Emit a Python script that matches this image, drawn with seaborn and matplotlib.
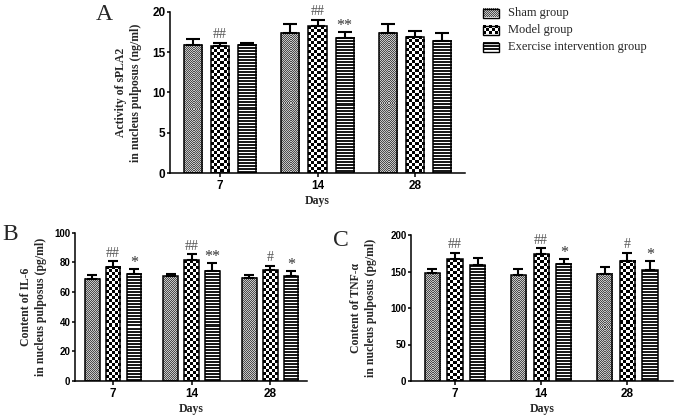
import numpy as np
import pandas as pd
import matplotlib
matplotlib.use("Agg")
import matplotlib.pyplot as plt
from matplotlib.patches import Rectangle
from matplotlib.container import BarContainer
import seaborn as sns

# ---------------- data ----------------
days = ["7", "14", "28"]
groups = ["Sham group", "Model group", "Exercise intervention group"]

a_sham = [15.95, 17.4, 17.4]
a_model = [15.75, 18.25, 16.9]
a_exer = [15.95, 16.8, 16.4]
a_sham_sd = [0.7, 1.15, 1.1]
a_model_sd = [0.45, 0.8, 0.8]
a_exer_sd = [0.2, 0.7, 1.0]
a_model_sig = ["##", "##", ""]
a_exer_sig = ["", "**", ""]

b_sham = [69.0, 70.6, 69.7]
b_model = [76.9, 81.3, 74.8]
b_exer = [72.4, 74.2, 70.6]
b_sham_sd = [2.5, 1.5, 2.0]
b_model_sd = [4.0, 4.3, 3.0]
b_exer_sd = [3.1, 5.4, 3.8]
b_model_sig = ["##", "##", "#"]
b_exer_sig = ["*", "**", "*"]

c_sham = [147.5, 145.2, 146.6]
c_model = [167.0, 173.5, 164.4]
c_exer = [158.4, 160.3, 152.0]
c_sham_sd = [5.5, 8.7, 9.1]
c_model_sd = [9.0, 8.5, 11.4]
c_exer_sd = [9.6, 7.3, 12.8]
c_model_sig = ["##", "##", "#"]
c_exer_sig = ["", "*", "*"]

a_ticks = [0, 5, 10, 15, 20]
b_ticks = [0, 20, 40, 60, 80, 100]
c_ticks = [0, 50, 100, 150, 200]

# ---------------- style ----------------
sns.set_style("ticks")
plt.rcParams["font.family"] = ["Liberation Serif", "DejaVu Serif"]
SERIF = ["Liberation Serif", "DejaVu Serif"]
SANS = ["Liberation Sans", "DejaVu Sans"]

W, H = 677, 420
fig = plt.figure(figsize=(W / 100, H / 100), dpi=100)


def rect_px(left, right, top, bottom):
    return [left / W, (H - bottom) / H, (right - left) / W, (bottom - top) / H]


def texture_array(kind, nx, ny):
    yy, xx = np.mgrid[0:ny, 0:nx]
    if kind == 0:      # fine grey checker
        arr = np.where((xx + yy) % 2 == 0, 0.3, 0.78)
    elif kind == 1:    # coarse checkerboard
        arr = np.where(((xx // 3) + (yy // 3)) % 2 == 0, 0.0, 1.0)
    else:              # horizontal stripes
        arr = np.where(yy % 3 < 2, 0.1, 1.0)
    return arr


def add_texture(ax, patch, kind):
    x0, y0 = patch.get_x(), patch.get_y()
    w, h = patch.get_width(), patch.get_height()
    (dx0, dy0) = ax.transData.transform((x0, y0))
    (dx1, dy1) = ax.transData.transform((x0 + w, y0 + h))
    nx = max(1, int(round(abs(dx1 - dx0))))
    ny = max(1, int(round(abs(dy1 - dy0))))
    arr = texture_array(kind, nx, ny)
    ax.imshow(arr, cmap="gray", vmin=0, vmax=1, extent=(x0, x0 + w, y0, y0 + h),
              origin="upper", interpolation="nearest", aspect="auto", zorder=1.5)


def panel(ax, box, sham, model, exer, sd_s, sd_m, sd_e, sig_m, sig_e, ticks,
          xlim, width, gap, capsize, ylabel, label_right_px, ytick_fs,
          letter, letter_xy):
    means = [sham, model, exer]
    sds = [sd_s, sd_m, sd_e]
    sigs = [None, sig_m, sig_e]
    df = pd.DataFrame({
        "Day": [d for g in groups for d in days],
        "Group": [g for g in groups for _ in days],
        "value": [v for vals in means for v in vals],
    })
    sns.barplot(data=df, x="Day", y="value", hue="Group", order=days,
                hue_order=groups, palette=["white"] * 3, width=width, gap=gap,
                errorbar=None, legend=False, ax=ax, edgecolor="black",
                linewidth=1.1)
    ax.set_xlim(*xlim)
    ax.set_ylim(ticks[0], ticks[-1])
    ax.set_yticks(ticks)
    ax.set_yticklabels([str(t) for t in ticks])
    bar_conts = [c for c in ax.containers if isinstance(c, BarContainer)]
    for gi, cont in enumerate(bar_conts):
        for p in list(cont.patches):
            cx = p.get_x() + p.get_width() / 2
            di = int(round(cx))
            p.set_facecolor("none")
            p.set_zorder(3)
            add_texture(ax, p, gi)
            top = means[gi][di]
            err = sds[gi][di]
            ax.errorbar([cx], [top], yerr=[[0], [err]], fmt="none",
                        ecolor="black", elinewidth=1.5, capsize=capsize,
                        capthick=1.5, zorder=2.5)
            if sigs[gi] is not None and sigs[gi][di]:
                s = sigs[gi][di]
                if "#" in s:
                    ax.annotate(s, (cx, top + err), xytext=(0, 1.0),
                                textcoords="offset points", ha="center",
                                va="bottom", fontsize=10, color="#555555",
                                family=SERIF)
                else:
                    ax.annotate(s, (cx, top + err), xytext=(0, -1.5),
                                textcoords="offset points", ha="center",
                                va="bottom", fontsize=11.5, color="#333333",
                                family=SERIF)
    sns.despine(ax=ax)
    for sp in ["left", "bottom"]:
        ax.spines[sp].set_linewidth(1.1)
        ax.spines[sp].set_color("black")
    ax.tick_params(axis="y", direction="out", length=2.5, width=1.1,
                   colors="black", pad=0.8)
    ax.tick_params(axis="x", direction="out", length=3.2, width=1.1,
                   colors="black", pad=2)
    for lab in ax.get_xticklabels():
        lab.set_fontfamily(SANS)
        lab.set_fontweight("bold")
        lab.set_fontsize(8.5)
    for lab in ax.get_yticklabels():
        lab.set_fontfamily(SANS)
        lab.set_fontweight("bold")
        lab.set_fontsize(ytick_fs)
    ax.set_xlabel("Days", fontfamily=SERIF, fontweight="bold", fontsize=8.5,
                  labelpad=2)
    ax.set_ylabel(ylabel, fontfamily=SERIF, fontweight="bold", fontsize=8.5,
                  linespacing=1.3)
    left, right = box
    ax.yaxis.set_label_coords((label_right_px - left) / (right - left), 0.5)
    fig.text(letter_xy[0] / W, 1 - letter_xy[1] / H, letter, fontsize=17,
             family=SERIF, ha="center", va="center")


boxA = (170, 465)
axA = fig.add_axes(rect_px(boxA[0], boxA[1], 12, 173))
panel(axA, boxA, a_sham, a_model, a_exer, a_sham_sd, a_model_sd, a_exer_sd,
      a_model_sig, a_exer_sig, a_ticks, (-0.515, 2.515), 0.835, 0.33, 5.0,
      "Activity of sPLA2\nin nucleus pulposus (ng/ml)", 142, 8.5,
      "A", (104.5, 15))

boxB = (75, 307)
axB = fig.add_axes(rect_px(boxB[0], boxB[1], 232.7, 381))
panel(axB, boxB, b_sham, b_model, b_exer, b_sham_sd, b_model_sd, b_exer_sd,
      b_model_sig, b_exer_sig, b_ticks, (-0.484, 2.47), 0.80, 0.29, 3.8,
      "Content of IL-6\nin nucleus pulposus (pg/ml)", 47, 7.0,
      "B", (10.5, 235))

boxC = (411, 673)
axC = fig.add_axes(rect_px(boxC[0], boxC[1], 235, 381))
panel(axC, boxC, c_sham, c_model, c_exer, c_sham_sd, c_model_sd, c_exer_sd,
      c_model_sig, c_exer_sig, c_ticks, (-0.51, 2.53), 0.79, 0.33, 3.8,
      "Content of TNF-α\nin nucleus pulposus (pg/ml)", 377, 7.0,
      "C", (341, 240))

# ---------------- legend ----------------
lax = fig.add_axes(rect_px(478, 677, 0, 60))
lax.set_xlim(478, 677)
lax.set_ylim(60, 0)
lax.axis("off")
key_y = [13, 30, 47]
for gi, (g, ky) in enumerate(zip(groups, key_y)):
    r = Rectangle((483, ky - 4.5), 16, 9, facecolor="none", edgecolor="black",
                  linewidth=1.0, zorder=3)
    lax.add_patch(r)
    arr = texture_array(gi, 16, 9)
    lax.imshow(arr, cmap="gray", vmin=0, vmax=1,
               extent=(483, 499, ky + 4.5, ky - 4.5), origin="upper",
               interpolation="nearest", aspect="auto", zorder=1.5)
    lax.text(508, ky, g, fontsize=9, family=SERIF, va="center", ha="left")
lax.set_xlim(478, 677)
lax.set_ylim(60, 0)

fig.savefig("out.png", dpi=100)
